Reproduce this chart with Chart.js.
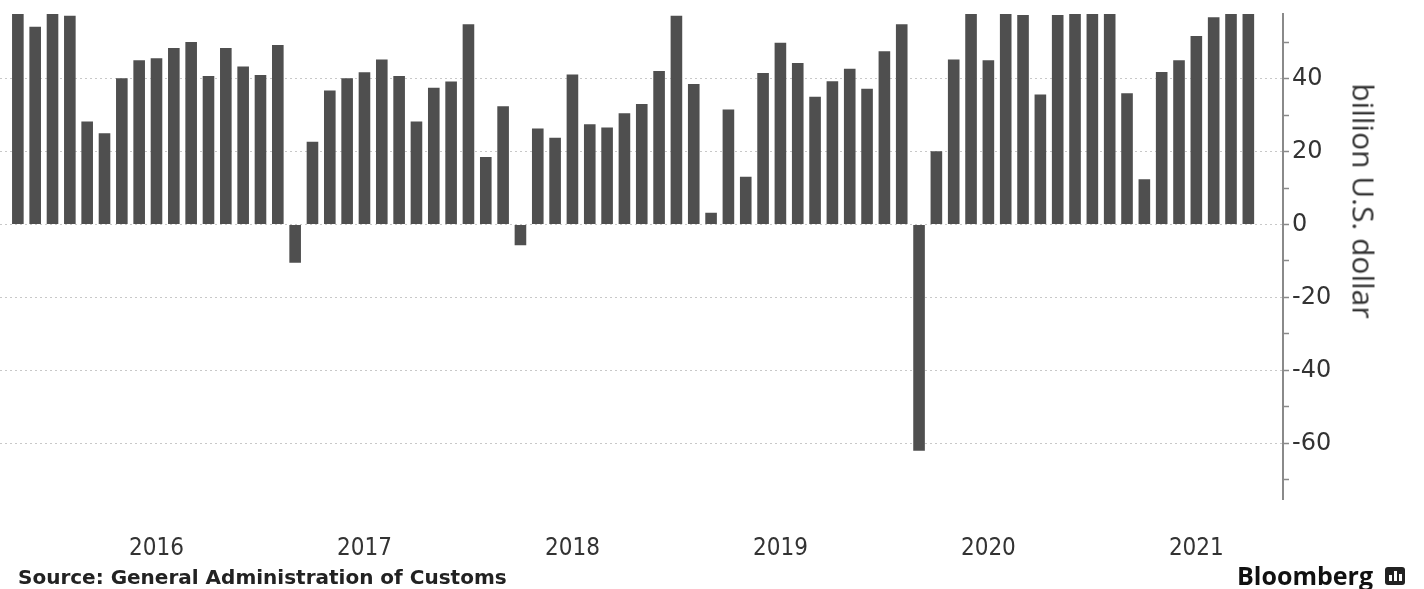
<!DOCTYPE html>
<html>
<head>
<meta charset="utf-8">
<script src="https://cdn.jsdelivr.net/npm/chart.js@4.4.0/dist/chart.umd.min.js"></script>
<style>
  html, body { margin: 0; padding: 0; background: #fff; overflow: hidden; }
  #wrap { position: relative; width: 1424px; height: 589px; }
  #chart { position: absolute; left: 0; top: 0; }
  .unit {
    position: absolute; left: 1364px; top: 201px;
    transform: translate(-50%, -50%) rotate(90deg);
    font: 30px 'Open Sans', sans-serif; color: #333; white-space: nowrap;
  }
  .source {
    position: absolute; left: 18px; top: 565px;
    font: bold 20px 'DejaVu Sans', sans-serif; color: #222; white-space: nowrap;
  }
  .brand {
    position: absolute; left: 1237px; top: 558px;
    font: 700 25px 'Open Sans', sans-serif; color: #111; white-space: nowrap;
  }
  .logo {
    position: absolute; left: 1385px; top: 567px; width: 20px; height: 18px;
    background: #222; border-radius: 3px;
  }
  .logo span { position: absolute; bottom: 4px; width: 3px; background: #fff; }
</style>
</head>
<body>
<div id="wrap">
  <canvas id="chart" width="1424" height="598"></canvas>
  <div class="unit">billion U.S. dollar</div>
  <div class="source">Source: General Administration of Customs</div>
  <div class="brand">Bloomberg</div>
  <div class="logo"><span style="left:4px;height:6px"></span><span style="left:9px;height:10px"></span><span style="left:14px;height:7px"></span></div>
</div>
<script>
// monthly China trade balance, Oct 2015 - Sep 2021
const months = [
  '2015-10', '2015-11', '2015-12',
  '2016-01', '2016-02', '2016-03', '2016-04', '2016-05', '2016-06', '2016-07', '2016-08', '2016-09', '2016-10', '2016-11', '2016-12',
  '2017-01', '2017-02', '2017-03', '2017-04', '2017-05', '2017-06', '2017-07', '2017-08', '2017-09', '2017-10', '2017-11', '2017-12',
  '2018-01', '2018-02', '2018-03', '2018-04', '2018-05', '2018-06', '2018-07', '2018-08', '2018-09', '2018-10', '2018-11', '2018-12',
  '2019-01', '2019-02', '2019-03', '2019-04', '2019-05', '2019-06', '2019-07', '2019-08', '2019-09', '2019-10', '2019-11', '2019-12',
  '2020-01', '2020-02', '2020-03', '2020-04', '2020-05', '2020-06', '2020-07', '2020-08', '2020-09', '2020-10', '2020-11', '2020-12',
  '2021-01', '2021-02', '2021-03', '2021-04', '2021-05', '2021-06', '2021-07', '2021-08', '2021-09'
];

// billion USD (bars above ~58 are cut off in the picture)
const surplus = [
  61.6, 54.2, 60.1,
  57.2, 28.2, 25.0, 40.1, 45.0, 45.6, 48.4, 50.0, 40.7, 48.4, 43.3, 41.0,
  49.2, -10.5, 22.7, 36.7, 40.1, 41.7, 45.2, 40.7, 28.2, 37.5, 39.2, 54.9,
  18.5, 32.4, -5.7, 26.3, 23.8, 41.1, 27.5, 26.6, 30.5, 33.0, 42.1, 57.2,
  38.5, 3.2, 31.5, 13.1, 41.5, 49.8, 44.3, 35.0, 39.3, 42.7, 37.2, 47.5,
  54.9, -62.0, 20.1, 45.2, 62.9, 45.0, 62.3, 57.4, 35.6, 57.4, 75.4, 78.2,
  63.0, 36.0, 12.4, 41.8, 45.0, 51.7, 56.8, 58.6, 66.8
];

const yearLabels = ['2016', '2017', '2018', '2019', '2020', '2021'];
const yearTickMonth = '06';   // label sits at mid-year

const X_MIN = -1.03;
const X_MAX = 73;
const Y_MIN = -75.3;
const Y_MAX = 57.7;

const ctx = document.getElementById('chart').getContext('2d');

new Chart(ctx, {
  type: 'bar',
  data: {
    datasets: [{
      data: surplus.map((v, i) => ({ x: i, y: v })),
      backgroundColor: '#4f4f4f',
      borderWidth: 0,
      barPercentage: 0.67,
      categoryPercentage: 1
    }]
  },
  options: {
    responsive: false,
    animation: false,
    layout: { padding: { top: 14, left: 0, right: 0, bottom: 0 } },
    plugins: { legend: { display: false }, tooltip: { enabled: false } },
    scales: {
      x: {
        type: 'linear',
        min: X_MIN,
        max: X_MAX,
        offset: false,
        bounds: 'data',
        grace: 0,
        grid: { display: false, drawTicks: false, offset: false },
        border: { display: false },
        afterBuildTicks: (scale) => {
          scale.ticks = yearLabels.map(y => ({ value: months.indexOf(y + '-' + yearTickMonth) }));
        },
        ticks: {
          autoSkip: false,
          maxRotation: 0,
          padding: 35,
          color: '#333',
          font: { family: "'Liberation Sans Narrow', 'DejaVu Sans Condensed', 'Liberation Sans', sans-serif", size: 24 },
          callback: (value) => months[value] ? months[value].slice(0, 4) : ''
        }
      },
      y: {
        position: 'right',
        min: Y_MIN,
        max: Y_MAX,
        afterFit: (scale) => {
          scale.width = 141;
          scale.paddingTop = 14;
          scale.paddingBottom = 0;
        },
        grid: {
          color: (c) => c.tick && c.tick.value % 20 === 0 ? '#c8c8c8' : 'rgba(0,0,0,0)',
          lineWidth: 1,
          tickLength: 6,
          tickColor: '#8a8a8a',
          tickWidth: 1.5
        },
        border: { display: true, color: '#8a8a8a', width: 2, dash: [2, 3] },
        ticks: {
          stepSize: 10,
          includeBounds: false,
          autoSkip: false,
          padding: 3,
          color: '#333',
          font: { family: "'DejaVu Sans', sans-serif", size: 24 },
          callback: (v) => v % 20 === 0 ? v : ''
        }
      }
    }
  }
});
</script>
</body>
</html>
